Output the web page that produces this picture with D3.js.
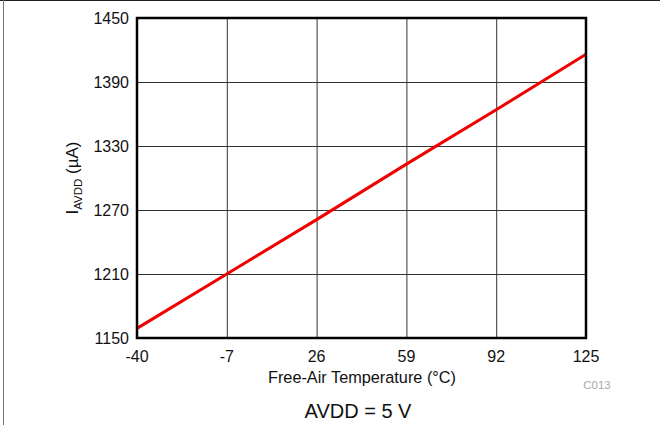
<!DOCTYPE html>
<html>
<head>
<meta charset="utf-8">
<script src="https://cdn.jsdelivr.net/npm/d3@7"></script>
<style>
  body { margin: 0; background: #fff; }
  svg { display: block; font-family: "Liberation Sans", Arial, sans-serif; }
</style>
</head>
<body>
<svg width="660" height="425"></svg>
<script>
let temps = [-40, -7, 26, 59, 92, 125];
let iavdd = [1159, 1210, 1261, 1313, 1364, 1416];
let xTicks = [-40, -7, 26, 59, 92, 125];
let yTicks = [1150, 1210, 1270, 1330, 1390, 1450];

let svgWidth = 660, svgHeight = 425;
let plotLeft = 137, plotRight = 586, plotTop = 18, plotBottom = 338;

let svg = d3.select('svg')
            .attr('width', svgWidth)
            .attr('height', svgHeight);

// outer frame lines (top and left only)
svg.append('line').attr('x1', 0).attr('x2', svgWidth).attr('y1', 0.5).attr('y2', 0.5)
   .attr('stroke', '#222').attr('stroke-width', 1);
svg.append('line').attr('x1', 3.5).attr('x2', 3.5).attr('y1', 0).attr('y2', svgHeight)
   .attr('stroke', '#777').attr('stroke-width', 1);

let xScale = d3.scaleLinear().domain([-40, 125]).range([plotLeft, plotRight]);
let yScale = d3.scaleLinear().domain([1150, 1450]).range([plotBottom, plotTop]);

// grid
svg.append('g')
   .attr('transform', 'translate(0,' + plotBottom + ')')
   .call(d3.axisBottom(xScale).tickValues(xTicks).tickSize(-(plotBottom - plotTop)).tickFormat(''))
   .call(g => g.select('.domain').remove())
   .selectAll('line').attr('stroke', '#333').attr('stroke-width', 1);

svg.append('g')
   .attr('transform', 'translate(' + plotLeft + ',0)')
   .call(d3.axisLeft(yScale).tickValues(yTicks).tickSize(-(plotRight - plotLeft)).tickFormat(''))
   .call(g => g.select('.domain').remove())
   .selectAll('line').attr('stroke', '#333').attr('stroke-width', 1);

// tick labels
svg.append('g').selectAll('text')
   .data(xTicks)
   .enter()
   .append('text')
   .attr('x', d => xScale(d))
   .attr('y', 362)
   .attr('text-anchor', 'middle')
   .attr('font-size', 16)
   .attr('fill', '#111')
   .text(d => d);

svg.append('g').selectAll('text')
   .data(yTicks)
   .enter()
   .append('text')
   .attr('x', 129)
   .attr('y', d => yScale(d) + 6)
   .attr('text-anchor', 'end')
   .attr('font-size', 16)
   .attr('fill', '#111')
   .text(d => d);

// data line
let line = d3.line()
             .x((d, i) => xScale(temps[i]))
             .y(d => yScale(d));

svg.append('path')
   .datum(iavdd)
   .attr('d', line)
   .attr('fill', 'none')
   .attr('stroke', '#f00000')
   .attr('stroke-width', 3);

// plot frame
svg.append('rect')
   .attr('x', plotLeft).attr('y', plotTop)
   .attr('width', plotRight - plotLeft).attr('height', plotBottom - plotTop)
   .attr('fill', 'none')
   .attr('stroke', '#000')
   .attr('stroke-width', 2.5);

// axis titles
svg.append('text')
   .attr('x', 362).attr('y', 383)
   .attr('text-anchor', 'middle')
   .attr('font-size', 16.3)
   .attr('fill', '#111')
   .text('Free-Air Temperature (°C)');

let yTitle = svg.append('text')
   .attr('transform', 'translate(78,178) rotate(-90)')
   .attr('text-anchor', 'middle')
   .attr('font-size', 17)
   .attr('fill', '#111');
yTitle.append('tspan').text('I');
yTitle.append('tspan').attr('font-size', 11.5).attr('dy', 4).text('AVDD');
yTitle.append('tspan').attr('dy', -4).text(' (µA)');

svg.append('text')
   .attr('x', 597).attr('y', 389)
   .attr('text-anchor', 'middle')
   .attr('font-size', 11.5)
   .attr('fill', '#aaa')
   .text('C013');

svg.append('text')
   .attr('x', 358).attr('y', 418)
   .attr('text-anchor', 'middle')
   .attr('font-size', 20)
   .attr('fill', '#111')
   .text('AVDD = 5 V');
</script>
</body>
</html>
